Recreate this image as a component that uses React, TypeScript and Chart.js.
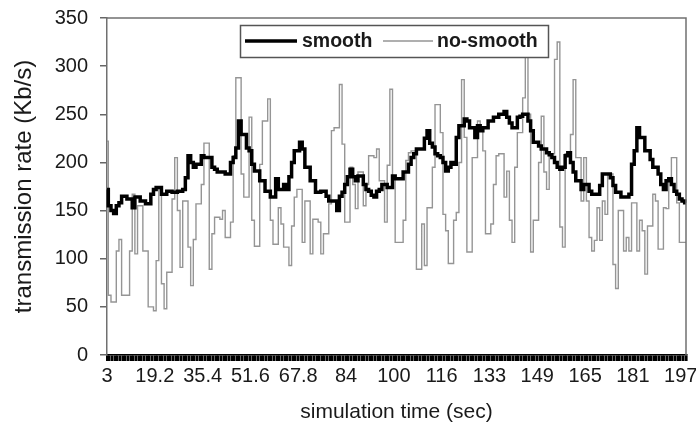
import React, { useEffect, useRef } from 'react';
import { Chart, registerables } from 'chart.js';

Chart.register(...registerables);

// Categories: simulation time (sec), one sample every 0.9 s
const TIMES: number[] = Array.from({ length: 219 }, (_, i) => Math.round((3 + 0.9 * i) * 10) / 10);

// Tick labels shown every 18th category
const TICK_LABELS = ['3', '19.2', '35.4', '51.6', '67.8', '84', '100', '116', '133', '149', '165', '181', '197'];

const SERIES_NAMES = ['smooth', 'no-smooth'];

// transmission rate (Kb/s) – smoothed
const SMOOTH = [
  172, 155, 150, 147, 155, 158, 165, 165, 162, 162, 153, 164, 164, 160, 160, 157, 157, 167, 172, 174,
  174, 167, 167, 170, 170, 169, 169, 170, 170, 172, 184, 207, 200, 195, 198, 198, 207, 205, 205, 205,
  195, 193, 190, 190, 190, 188, 188, 200, 205, 215, 243, 229, 229, 215, 212, 198, 191, 191, 181, 181,
  170, 170, 164, 164, 183, 172, 172, 177, 172, 185, 200, 212, 212, 221, 214, 195, 195, 181, 181, 169,
  169, 170, 170, 165, 160, 160, 160, 150, 165, 169, 177, 185, 193, 185, 181, 186, 186, 177, 172, 170,
  166, 164, 170, 172, 177, 177, 174, 174, 186, 183, 183, 183, 190, 190, 198, 205, 209, 214, 214, 214,
  225, 233, 220, 216, 209, 207, 205, 200, 191, 195, 200, 198, 226, 238, 238, 245, 243, 236, 236, 226,
  238, 233, 236, 236, 243, 243, 247, 247, 250, 250, 253, 247, 241, 236, 236, 247, 248, 250, 250, 243,
  233, 221, 221, 217, 214, 214, 210, 208, 205, 200, 195, 193, 195, 207, 210, 200, 190, 181, 181, 172,
  177, 177, 170, 167, 167, 167, 176, 188, 188, 188, 184, 176, 169, 169, 164, 164, 164, 167, 198, 212,
  236, 226, 226, 212, 212, 203, 195, 195, 188, 177, 172, 181, 183, 177, 170, 167, 162, 160, 158,
];

// transmission rate (Kb/s) – not smoothed
const NO_SMOOTH = [
  222, 62, 55, 55, 108, 120, 62, 62, 62, 108, 167, 105, 155, 155, 108, 108, 50, 50, 46, 98,
  174, 74, 48, 86, 86, 162, 205, 150, 91, 160, 160, 112, 72, 120, 157, 157, 177, 220, 220, 89,
  126, 143, 143, 141, 150, 122, 122, 138, 207, 288, 288, 188, 164, 164, 247, 140, 113, 113, 198, 243,
  243, 266, 140, 115, 115, 153, 136, 112, 112, 93, 134, 164, 172, 172, 117, 160, 160, 105, 141, 141,
  138, 105, 126, 126, 157, 233, 236, 236, 281, 219, 138, 138, 195, 177, 152, 190, 190, 155, 177, 207,
  207, 205, 214, 181, 181, 138, 197, 276, 186, 117, 117, 117, 140, 202, 210, 212, 212, 89, 89, 136,
  93, 153, 153, 195, 260, 260, 231, 146, 129, 95, 95, 140, 148, 200, 286, 226, 107, 107, 205, 205,
  243, 233, 212, 126, 126, 136, 177, 207, 209, 209, 164, 191, 140, 117, 195, 231, 231, 267, 312, 250,
  107, 140, 140, 200, 248, 190, 172, 209, 209, 307, 325, 133, 112, 209, 209, 229, 286, 205, 205, 160,
  205, 160, 122, 108, 119, 153, 119, 160, 146, 188, 188, 94, 69, 150, 150, 108, 122, 108, 158, 158,
  108, 140, 129, 84, 134, 134, 167, 160, 110, 110, 153, 152, 184, 205, 205, 158, 117, 117, 117,
];

const FONT = '"Liberation Sans", Arial, sans-serif';
const TEXT = '#1a1a1a';

const frameAndLegend = {
  id: 'frameAndLegend',
  afterDatasetsDraw(chart: any) {
    const { ctx, chartArea } = chart;
    const { left, right, top, bottom } = chartArea;
    ctx.save();
    // top/right frame
    ctx.strokeStyle = '#707070';
    ctx.lineWidth = 1.5;
    ctx.beginPath();
    ctx.moveTo(left, top);
    ctx.lineTo(right, top);
    ctx.lineTo(right, bottom);
    ctx.stroke();

    // legend box
    const ds = chart.data.datasets;
    const bx = 240, by = 25, bw = 308, bh = 32;
    ctx.fillStyle = '#ffffff';
    ctx.fillRect(bx, by, bw, bh);
    ctx.strokeStyle = '#555';
    ctx.lineWidth = 1.5;
    ctx.strokeRect(bx + 0.5, by + 0.5, bw, bh);
    const cy = by + bh / 2;
    ctx.font = `bold 19.5px ${FONT}`;
    ctx.textBaseline = 'middle';
    ctx.fillStyle = TEXT;
    // smooth
    ctx.strokeStyle = ds[0].borderColor;
    ctx.lineWidth = ds[0].borderWidth;
    ctx.beginPath();
    ctx.moveTo(245, cy);
    ctx.lineTo(297, cy);
    ctx.stroke();
    ctx.fillText(ds[0].label, 302, cy + 1);
    // no-smooth
    ctx.strokeStyle = ds[1].borderColor;
    ctx.lineWidth = ds[1].borderWidth;
    ctx.beginPath();
    ctx.moveTo(383, cy);
    ctx.lineTo(433, cy);
    ctx.stroke();
    ctx.fillText(ds[1].label, 437, cy + 1);
    ctx.restore();
  },
};

export default function App() {
  const ref = useRef<HTMLCanvasElement | null>(null);

  useEffect(() => {
    document.body.style.margin = '0';
    const canvas = ref.current;
    if (!canvas) return;
    const chart = new Chart(canvas, {
      type: 'line',
      data: {
        labels: TIMES,
        datasets: [
          {
            label: SERIES_NAMES[0],
            data: SMOOTH,
            borderColor: '#000000',
            borderWidth: 3.5,
            pointRadius: 0,
            stepped: 'middle',
            fill: false,
          },
          {
            label: SERIES_NAMES[1],
            data: NO_SMOOTH,
            borderColor: '#959595',
            borderWidth: 1.4,
            pointRadius: 0,
            stepped: 'middle',
            fill: false,
          },
        ],
      },
      options: {
        animation: false,
        responsive: false,
        devicePixelRatio: 1,
        layout: { padding: { top: 18, right: 10, bottom: 0, left: 0 } },
        plugins: { legend: { display: false }, tooltip: { enabled: false } },
        scales: {
          x: {
            type: 'category',
            offset: false,
            ticks: {
              autoSkip: false,
              maxRotation: 0,
              minRotation: 0,
              padding: 3,
              color: TEXT,
              font: { family: FONT, size: 20 },
              callback: (_v: any, index: number) =>
                index % 18 === 0 && TICK_LABELS[index / 18] !== undefined ? TICK_LABELS[index / 18] : '',
            },
            grid: { drawOnChartArea: false, drawTicks: true, tickLength: 6, color: '#000', lineWidth: 2.6 },
            border: { color: '#000', width: 1.5 },
            title: {
              display: true,
              text: 'simulation time (sec)',
              color: TEXT,
              font: { family: FONT, size: 21 },
              padding: { top: 0, bottom: 9 },
            },
            afterFit: (s: any) => {
              s.height = 79;
              s.paddingLeft = 0;
              s.paddingRight = 0;
            },
          },
          y: {
            min: 0,
            max: 350,
            ticks: { stepSize: 50, padding: 12, color: TEXT, font: { family: FONT, size: 20 } },
            grid: { drawOnChartArea: false, drawTicks: true, tickLength: 7, color: '#666', lineWidth: 1.5 },
            border: { color: '#707070', width: 1.5 },
            title: {
              display: true,
              text: 'transmission rate (Kb/s)',
              color: TEXT,
              font: { family: FONT, size: 24 },
              padding: { top: 10, bottom: 0 },
            },
            afterFit: (s: any) => {
              s.width = 107;
              s.paddingTop = 0;
              s.paddingBottom = 0;
            },
          },
        },
      },
      plugins: [frameAndLegend],
    });
    return () => chart.destroy();
  }, []);

  return (
    <div style={{ width: 696, height: 434 }}>
      <canvas ref={ref} width={696} height={434} style={{ width: 696, height: 434, display: 'block' }} />
    </div>
  );
}
